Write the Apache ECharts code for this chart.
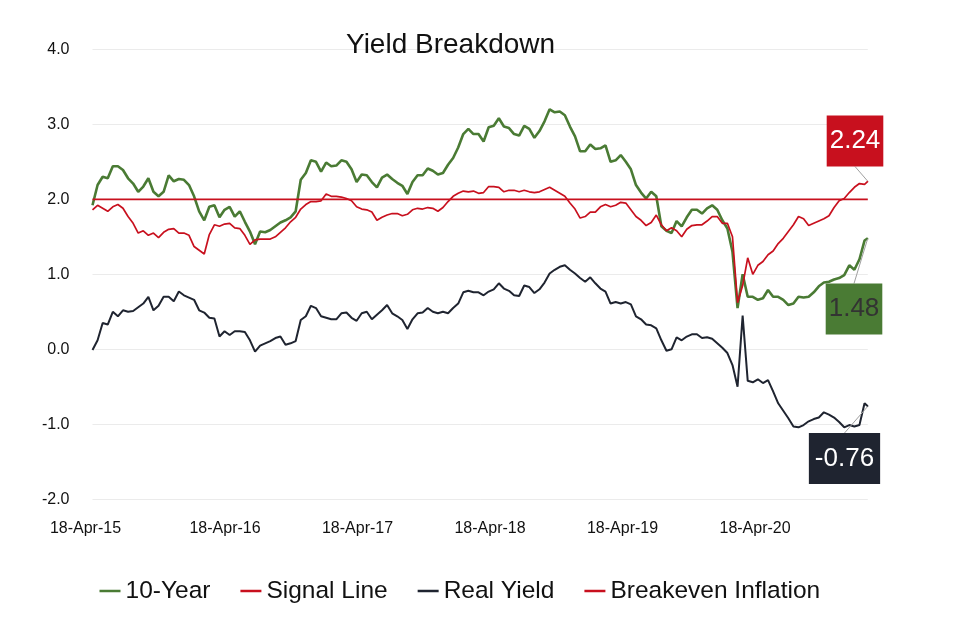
<!DOCTYPE html>
<html><head><meta charset="utf-8">
<script src="https://cdn.jsdelivr.net/npm/echarts@6/dist/echarts.min.js"></script>
<style>html,body{margin:0;padding:0;background:#fff}#c{width:961px;height:619px}</style>
</head><body><div id="c"></div>
<script>
// ---- data ----
const startDate = '2015-04-18';
const endDate = '2021-02-22';
const stepDays = 14;   // sampling step; last value sits on endDate
const tickLabels = ['18-Apr-15', '18-Apr-16', '18-Apr-17', '18-Apr-18', '18-Apr-19', '18-Apr-20'];
const signalLevel = 2.0;

const tenYear = [
  1.92, 2.19, 2.30, 2.28, 2.44, 2.44, 2.39, 2.28, 2.21, 2.10,
  2.17, 2.28, 2.10, 2.04, 2.10, 2.32, 2.24, 2.27, 2.26, 2.19,
  2.04, 1.84, 1.72, 1.90, 1.92, 1.76, 1.86, 1.90, 1.77, 1.84,
  1.70, 1.57, 1.40, 1.57, 1.56, 1.59, 1.64, 1.69, 1.72, 1.76,
  1.84, 2.26, 2.35, 2.52, 2.50, 2.37, 2.49, 2.44, 2.45, 2.52,
  2.50, 2.40, 2.23, 2.33, 2.32, 2.23, 2.16, 2.29, 2.33, 2.27,
  2.22, 2.18, 2.07, 2.23, 2.32, 2.32, 2.41, 2.38, 2.33, 2.35,
  2.46, 2.55, 2.69, 2.87, 2.94, 2.87, 2.87, 2.77, 2.96, 2.98,
  3.08, 2.97, 2.95, 2.87, 2.85, 2.98, 2.94, 2.82, 2.91, 3.04,
  3.20, 3.16, 3.17, 3.12, 2.97, 2.84, 2.64, 2.64, 2.73, 2.67,
  2.68, 2.72, 2.50, 2.52, 2.59, 2.50, 2.40, 2.19, 2.09, 2.01,
  2.10, 2.04, 1.64, 1.58, 1.55, 1.71, 1.64, 1.76, 1.86, 1.86,
  1.81, 1.88, 1.92, 1.86, 1.72, 1.61, 1.30, 0.55, 1.00, 0.70,
  0.70, 0.66, 0.68, 0.79, 0.70, 0.70, 0.66, 0.59, 0.61, 0.70,
  0.69, 0.70, 0.76, 0.84, 0.89, 0.90, 0.93, 0.95, 0.99, 1.12,
  1.06, 1.20, 1.45, 1.48
];
const breakeven = [
  1.86, 1.92, 1.88, 1.84, 1.90, 1.93, 1.88, 1.77, 1.68, 1.55,
  1.58, 1.52, 1.55, 1.49, 1.56, 1.60, 1.61, 1.55, 1.55, 1.52,
  1.37, 1.32, 1.27, 1.53, 1.66, 1.64, 1.67, 1.68, 1.62, 1.61,
  1.52, 1.40, 1.46, 1.47, 1.47, 1.47, 1.50, 1.56, 1.62, 1.70,
  1.76, 1.87, 1.93, 1.97, 1.97, 1.98, 2.07, 2.04, 2.04, 2.03,
  2.01, 1.98, 1.90, 1.87, 1.86, 1.83, 1.72, 1.76, 1.79, 1.81,
  1.81, 1.78, 1.80, 1.86, 1.88, 1.87, 1.89, 1.88, 1.84, 1.89,
  1.97, 2.04, 2.08, 2.11, 2.10, 2.11, 2.08, 2.09, 2.17, 2.17,
  2.16, 2.10, 2.12, 2.12, 2.10, 2.12, 2.10, 2.09, 2.10, 2.13,
  2.16, 2.12, 2.08, 2.04, 1.95, 1.87, 1.75, 1.77, 1.83, 1.83,
  1.90, 1.93, 1.90, 1.92, 1.96, 1.95, 1.86, 1.77, 1.72, 1.65,
  1.69, 1.79, 1.66, 1.58, 1.62, 1.58, 1.50, 1.60, 1.65, 1.66,
  1.66, 1.71, 1.77, 1.77, 1.68, 1.68, 1.50, 0.62, 0.85, 1.22,
  1.00, 1.12, 1.17, 1.26, 1.31, 1.41, 1.48, 1.57, 1.66, 1.77,
  1.74, 1.65, 1.68, 1.71, 1.74, 1.78, 1.89, 1.98, 2.01, 2.09,
  2.16, 2.21, 2.20, 2.24
];
const realYield = [
  -0.01, 0.12, 0.35, 0.33, 0.50, 0.44, 0.52, 0.50, 0.51, 0.56,
  0.61, 0.70, 0.52, 0.58, 0.70, 0.70, 0.64, 0.77, 0.72, 0.69,
  0.66, 0.52, 0.49, 0.42, 0.41, 0.17, 0.24, 0.19, 0.24, 0.24,
  0.23, 0.12, -0.03, 0.05, 0.08, 0.11, 0.15, 0.17, 0.06, 0.08,
  0.11, 0.39, 0.44, 0.58, 0.55, 0.44, 0.42, 0.40, 0.40, 0.48,
  0.49, 0.42, 0.38, 0.48, 0.50, 0.40, 0.46, 0.52, 0.59, 0.48,
  0.44, 0.39, 0.27, 0.40, 0.48, 0.49, 0.55, 0.50, 0.48, 0.50,
  0.48, 0.55, 0.61, 0.76, 0.78, 0.76, 0.76, 0.72, 0.77, 0.80,
  0.88, 0.81, 0.78, 0.72, 0.71, 0.85, 0.83, 0.75, 0.80, 0.89,
  1.01, 1.06, 1.10, 1.12, 1.06, 1.01, 0.95, 0.90, 0.96, 0.88,
  0.81, 0.77, 0.61, 0.63, 0.61, 0.63, 0.60, 0.44, 0.40, 0.33,
  0.32, 0.28, 0.12, -0.02, 0.00, 0.16, 0.12, 0.17, 0.20, 0.20,
  0.15, 0.16, 0.14, 0.08, 0.02, -0.05, -0.21, -0.50, 0.45, -0.42,
  -0.44, -0.40, -0.45, -0.41, -0.56, -0.72, -0.82, -0.92, -1.03, -1.04,
  -1.01, -0.96, -0.93, -0.91, -0.84, -0.87, -0.91, -0.97, -1.04, -1.01,
  -1.03, -1.01, -0.72, -0.76
];

// ---- build ----
const DAY = 86400000;
const dayOf = s => { const p = s.split('-').map(Number); return Date.UTC(p[0], p[1] - 1, p[2]) / DAY; };
const endDay = dayOf(endDate) - dayOf(startDate);
const YEAR = 365.25;
const toXY = arr => arr.map((v, i) => [i === arr.length - 1 ? endDay : i * stepDays, v]);

const GREEN = '#4a7b34', RED = '#c8101e', DARK = '#1f2430';
const FONT = '"Liberation Sans", Arial, Helvetica, sans-serif';

function withEndLabel(arr, bg, fg, padH) {
  const d = toXY(arr);
  const k = d.length - 1;
  d[k] = {
    value: d[k], symbol: 'circle', symbolSize: 1,
    label: {
      show: true, position: 'inside',
      formatter: p => p.value[1].toFixed(2),
      backgroundColor: bg, color: fg, fontSize: 26, fontFamily: FONT,
      lineHeight: 32, padding: [10, padH, 9, padH]
    },
    labelLine: { show: true, lineStyle: { color: '#a0a0a0', width: 1 } }
  };
  return d;
}

const chart = echarts.init(document.getElementById('c'), null, { renderer: 'canvas' });
chart.setOption({
  animation: false,
  backgroundColor: '#ffffff',
  title: {
    text: 'Yield Breakdown', left: 346, top: 31, padding: 0,
    textStyle: { fontFamily: FONT, fontSize: 28, fontWeight: 'normal', color: '#111', lineHeight: 28 }
  },
  legend: {
    left: 99.5, top: 578, padding: 0, itemGap: 30,
    icon: 'rect', itemWidth: 21, itemHeight: 2.5,
    textStyle: { fontFamily: FONT, fontSize: 24.5, color: '#111', lineHeight: 26 },
    data: ['10-Year', 'Signal Line', 'Real Yield', 'Breakeven Inflation']
  },
  grid: { left: 92.5, right: 93.2, top: 49.3, bottom: 119.7, containLabel: false },
  xAxis: {
    type: 'value', min: 0, max: endDay, interval: YEAR,
    axisLine: { show: false }, axisTick: { show: false }, splitLine: { show: false },
    axisLabel: {
      margin: 21, fontFamily: FONT, fontSize: 16, color: '#111', showMaxLabel: false,
      rich: { first: { fontFamily: FONT, fontSize: 16, color: '#111', padding: [0, 14, 0, 0] } },
      formatter: v => {
        const k = Math.round(v / YEAR);
        if (Math.abs(v - k * YEAR) >= 1 || !tickLabels[k]) return '';
        return k === 0 ? '{first|' + tickLabels[k] + '}' : tickLabels[k];
      }
    }
  },
  yAxis: {
    type: 'value', min: -2, max: 4, interval: 1,
    axisLine: { show: false }, axisTick: { show: false },
    splitLine: { show: true, lineStyle: { color: '#ebebeb', width: 1 } },
    axisLabel: { margin: 23, fontFamily: FONT, fontSize: 16, color: '#111', formatter: v => v.toFixed(1) }
  },
  series: [
    {
      name: '10-Year', type: 'line', color: GREEN, showSymbol: true, symbol: 'none',
      lineStyle: { width: 2.6, color: GREEN },
      labelLayout: { dx: -13.8, dy: 70.7 },
      data: withEndLabel(tenYear, GREEN, '#333333', 3), z: 2
    },
    {
      name: 'Signal Line', type: 'line', color: RED, showSymbol: false, symbol: 'none',
      lineStyle: { width: 1.8, color: RED },
      data: [[0, signalLevel], [endDay, signalLevel]], z: 3
    },
    {
      name: 'Real Yield', type: 'line', color: DARK, showSymbol: true, symbol: 'none',
      lineStyle: { width: 2, color: DARK },
      labelLayout: { dx: -23.3, dy: 52.2 },
      data: withEndLabel(realYield, DARK, '#ffffff', 6), z: 4
    },
    {
      name: 'Breakeven Inflation', type: 'line', color: RED, showSymbol: true, symbol: 'none',
      lineStyle: { width: 1.7, color: RED },
      labelLayout: { dx: -12.8, dy: -40.3 },
      data: withEndLabel(breakeven, RED, '#ffffff', 3), z: 5
    }
  ]
});
</script>
</body></html>
